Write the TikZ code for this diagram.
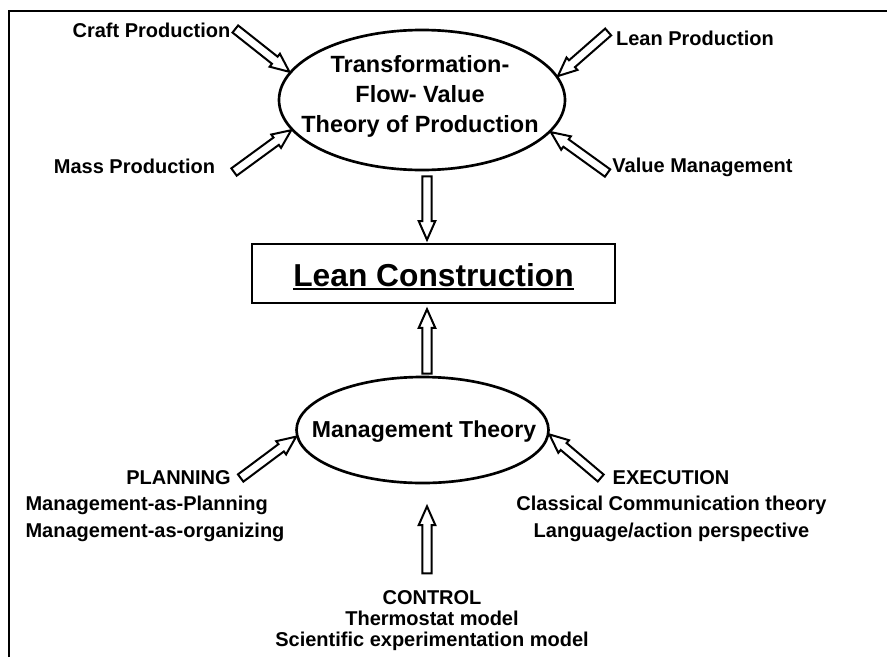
\documentclass[tikz,border=0pt]{standalone}
\usepackage{fontspec}
\setmainfont{Liberation Sans}
\usetikzlibrary{calc,shapes.geometric}

% heavy underline for the box title
\newcommand\heavyul[1]{\setbox0\hbox{#1}\rlap{\rule[-3.2pt]{\wd0}{1.5pt}}\box0}

\tikzset{
  theory/.style={draw, ellipse, line width=2pt, inner sep=0pt},
  side text/.style={font=\bfseries\fontsize{15}{20.25}\selectfont, inner sep=2pt},
  hollow arrow/.style={draw, fill=white, line width=1.5pt, line join=miter,
    to path={
      ($(\tikztostart)!3.4pt!90:(\tikztotarget)$)
      -- ($(\tikztotarget)!14pt!(\tikztostart)!3.4pt!90:(\tikztotarget)$)
      -- ($(\tikztotarget)!14pt!(\tikztostart)!6.2pt!90:(\tikztotarget)$)
      -- (\tikztotarget)
      -- ($(\tikztotarget)!14pt!(\tikztostart)!6.2pt!-90:(\tikztotarget)$)
      -- ($(\tikztotarget)!14pt!(\tikztostart)!3.4pt!-90:(\tikztotarget)$)
      -- ($(\tikztostart)!3.4pt!-90:(\tikztotarget)$)
      -- cycle}},
}

\begin{document}
\begin{tikzpicture}[x=0.75pt,y=-0.75pt]
\useasboundingbox (0,0) rectangle (887,657);

%Frame
\draw [line width=1.5pt] (9,657) -- (9,11) -- (887,11) ;

%Shape: Ellipse [tfv]
\node [theory, minimum width=214.5pt, minimum height=105pt] (tfv) at (422,100) {};
% Text Node
\node [font=\bfseries\fontsize{17.6}{22.5}\selectfont, align=center] (tfvtext) at (420,96) {Transformation-\\Flow- Value\\Theory of Production};

%Shape: Rectangle [lc]
\node [draw, line width=1.8pt, minimum width=272.25pt, minimum height=44.25pt, inner sep=0pt,
  text height=22pt, text depth=3.2pt,
  font=\bfseries\fontsize{23.8}{28}\selectfont] (lc) at (433.5,273.5) {\heavyul{Lean Construction}};

%Shape: Ellipse [mt]
\node [theory, minimum width=189pt, minimum height=79.5pt] (mt) at (422.5,430) {};
% Text Node
\node [font=\bfseries\fontsize{17.3}{21}\selectfont] (mttext) at (424,432) {Management Theory};

% Text Node
\node [side text] (craft) at (151.5,30) {Craft Production};
% Text Node
\node [side text] (mass) at (134.5,166) {Mass Production};
% Text Node
\node [side text] (lean) at (695,38) {Lean Production};
% Text Node
\node [side text] (value) at (702.5,167) {Value Management};
% Text Node
\node [side text] (plan) at (178.5,478) {PLANNING};
% Text Node
\node [side text, align=left] (planitems) at (155,519) {Management-as-Planning\\Management-as-organizing};
% Text Node
\node [side text] (exec) at (671,478) {EXECUTION};
% Text Node
\node [side text, align=center] (execitems) at (671.5,519) {Classical Communication theory\\Language/action perspective};
% Text Node
\node [side text, align=center, font=\bfseries\fontsize{15}{15.75}\selectfont] (ctrl) at (432,620.5) {CONTROL\\Thermostat model\\Scientific experimentation model};

%Arrow ends
\coordinate (crafttail) at ($(craft.east)+(2,-1)$);
\coordinate (masstail) at ($(mass.east)+(16,6)$);
\coordinate (leantail) at ($(lean.west)+(-5,-6)$);
\coordinate (valuetail) at ($(value.west)+(-2,6)$);
\coordinate (plantail) at ($(plan.east)+(7,0)$);
\coordinate (exectail) at ($(exec.west)+(-9,0)$);
\coordinate (tfvfoot) at ($(tfv.south)+(5,5)$);
\coordinate (lctop) at ($(tfvfoot |- lc.north)+(0,-3)$);
\coordinate (mthead) at ($(mt.north)+(4.5,-2)$);
\coordinate (lcfoot) at ($(mthead |- lc.south)+(0,5)$);
\coordinate (ctrltail) at ($(mt.south)+(4.5,89)$);
\coordinate (mtfoot) at ($(mt.south)+(4.5,22)$);

%Hollow arrows into the production theory
\draw [hollow arrow] (crafttail) to (tfv.168) ;
\draw [hollow arrow] (masstail) to (tfv.193) ;
\draw [hollow arrow] (leantail) to (tfv.10) ;
\draw [hollow arrow] (valuetail) to (tfv.346) ;
\draw [hollow arrow] (tfvfoot) to (lctop) ;

%Hollow arrows into management theory
\draw [hollow arrow] (mthead) to (lcfoot) ;
\draw [hollow arrow] (plantail) to (mt.183) ;
\draw [hollow arrow] (exectail) to (mt.358) ;
\draw [hollow arrow] (ctrltail) to (mtfoot) ;

\end{tikzpicture}
\end{document}
